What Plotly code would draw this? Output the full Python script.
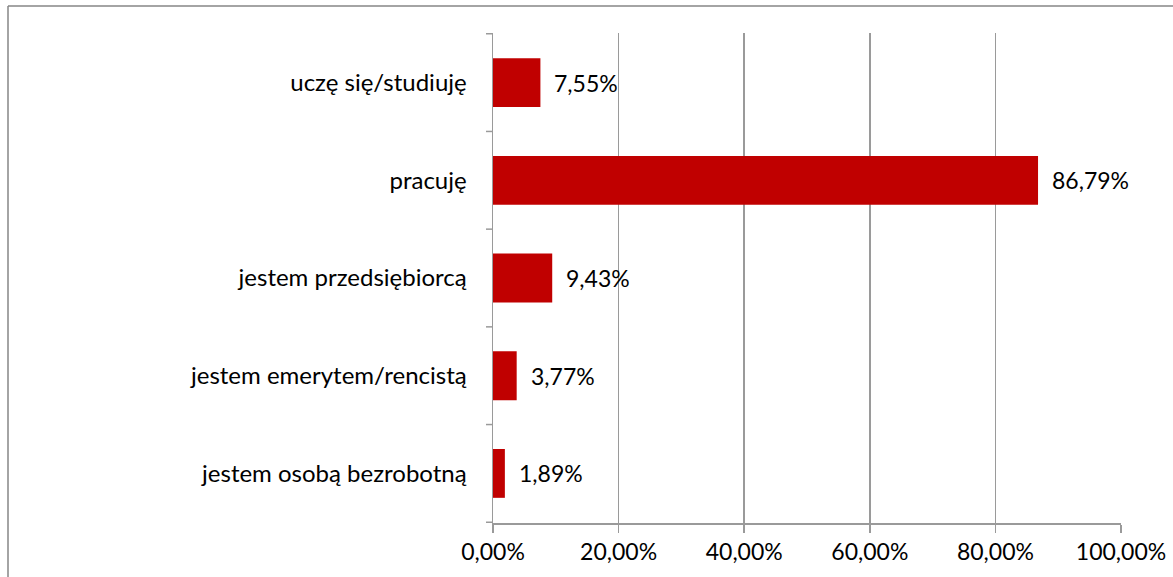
import plotly.graph_objects as go

categories = ["uczę się/studiuję", "pracuję", "jestem przedsiębiorcą",
              "jestem emerytem/rencistą", "jestem osobą bezrobotną"]
values = [0.0755, 0.8679, 0.0943, 0.0377, 0.0189]
labels = ["7,55%", "86,79%", "9,43%", "3,77%", "1,89%"]
x_ticks = [0, 0.2, 0.4, 0.6, 0.8, 1.0]

W, H = 1173, 577
L, R, T, B = 493, 52, 33, 54
pw, ph = W - L - R, H - T - B

def px_to_paper_x(px):
    return (px - L) / pw

def px_to_paper_y(py):
    return (H - B - py) / ph

FONT = "Lato, 'Open Sans', sans-serif"
FS = 23
FS_CAT = 24
GRID = "#9a9a9a"

fig = go.Figure()
fig.add_trace(go.Bar(
    y=categories, x=values, orientation="h",
    marker=dict(color="#C00000", line=dict(width=0)),
    hoverinfo="skip",
))

for c, v, t in zip(categories, values, labels):
    fig.add_annotation(x=v, y=c, xref="x", yref="y", text=t, showarrow=False,
                       xanchor="left", xshift=12, font=dict(family=FONT, size=FS, color="#000"))

# outer frame (left and top edges visible)
fig.add_shape(type="line", xref="paper", yref="paper",
              x0=px_to_paper_x(8), x1=px_to_paper_x(8),
              y0=px_to_paper_y(6), y1=px_to_paper_y(600),
              line=dict(color="#868686", width=1.5))
fig.add_shape(type="line", xref="paper", yref="paper",
              x0=px_to_paper_x(8), x1=px_to_paper_x(1200),
              y0=px_to_paper_y(6), y1=px_to_paper_y(6),
              line=dict(color="#868686", width=1.5))

fig.update_layout(
    width=W, height=H,
    margin=dict(l=L, r=R, t=T, b=B, pad=0),
    paper_bgcolor="white", plot_bgcolor="white",
    separators=", ",
    showlegend=False,
    bargap=0.5,
    font=dict(family=FONT, size=FS, color="#000"),
    xaxis=dict(range=[0, 1.0], tickvals=x_ticks, tickformat=".2%",
               showgrid=True, gridcolor=GRID, gridwidth=1.5,
               showline=True, linecolor=GRID, linewidth=1.5,
               ticks="outside", ticklen=8, tickcolor=GRID, tickwidth=1.5,
               zeroline=False, fixedrange=True, automargin=False,
               tickfont=dict(family=FONT, size=FS, color="#000")),
    yaxis=dict(categoryorder="array", categoryarray=categories[::-1],
               showgrid=False, showline=True, linecolor=GRID, linewidth=1.5,
               ticks="", zeroline=False, fixedrange=True, automargin=False,
               ticklabelstandoff=20,
               tickfont=dict(family=FONT, size=FS_CAT, color="#000")),
)

# category separator tick marks on y axis (between categories)
n = len(categories)
for i in range(n + 1):
    fig.add_shape(type="line", xref="paper", yref="y",
                  x0=px_to_paper_x(486), x1=0, y0=i - 0.5, y1=i - 0.5,
                  line=dict(color=GRID, width=1.5))

fig.write_html("out.html",
               config={"displayModeBar": False, "staticPlot": True},
               post_script="document.body.style.margin='0';document.body.style.overflow='hidden';")
